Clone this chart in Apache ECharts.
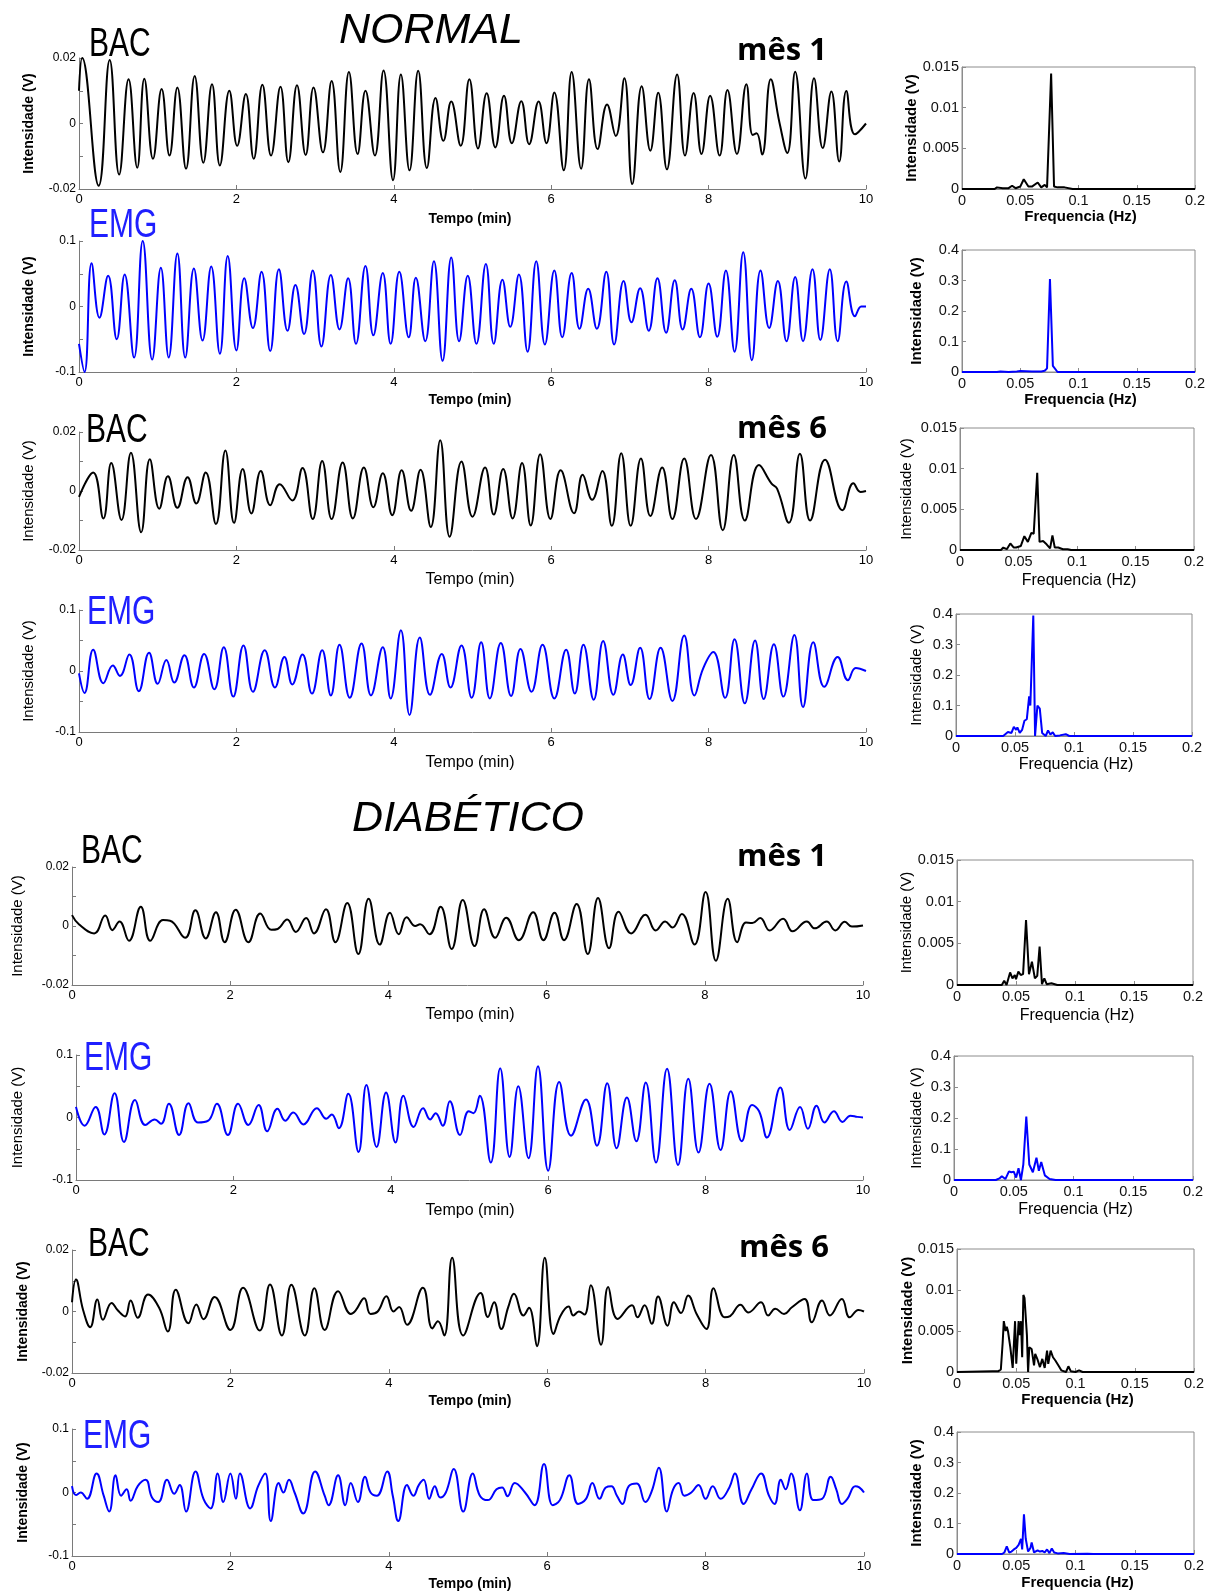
<!DOCTYPE html>
<html><head><meta charset="utf-8">
<script src="https://cdn.jsdelivr.net/npm/echarts@6/dist/echarts.min.js"></script>
<style>html,body{margin:0;padding:0;background:#fff}#c{width:1216px;height:1594px}</style>
</head><body><div id="c"></div>
<script>
// ---------- DATA: time series extrema [tempo (min), intensidade (V)] ----------
const normalBacM1 = [[0,0.010],[0.04,0.020],[0.25,-0.019],[0.39,0.0194],[0.51,-0.0156],[0.63,0.0135],[0.74,-0.0135],[0.83,0.0137],[0.94,-0.0108],[1.05,0.0105],[1.15,-0.0098],[1.25,0.011],[1.36,-0.0138],[1.47,0.0145],[1.58,-0.012],[1.69,0.012],[1.79,-0.0128],[1.91,0.010],[2.01,-0.0068],[2.12,0.009],[2.22,-0.0108],[2.33,0.0118],[2.44,-0.0098],[2.56,0.0112],[2.66,-0.0118],[2.77,0.0117],[2.88,-0.0096],[2.98,0.011],[3.10,-0.0088],[3.21,0.013],[3.32,-0.0148],[3.43,0.0157],[3.54,-0.0093],[3.64,0.010],[3.76,-0.0098],[3.87,0.0162],[3.99,-0.0173],[4.09,0.015],[4.20,-0.0143],[4.31,0.0161],[4.42,-0.0136],[4.53,0.0078],[4.63,-0.0053],[4.73,0.0067],[4.85,-0.0068],[4.96,0.0135],[5.07,-0.0076],[5.18,0.0092],[5.29,-0.0073],[5.40,0.0085],[5.50,-0.006],[5.62,0.0068],[5.72,-0.0063],[5.84,0.0067],[5.94,-0.006],[6.04,0.0095],[6.16,-0.0143],[6.26,0.0157],[6.38,-0.0138],[6.48,0.0135],[6.59,-0.0078],[6.71,0.0058],[6.82,-0.0038],[6.93,0.0138],[7.03,-0.0185],[7.15,0.0114],[7.26,-0.0083],[7.36,0.0094],[7.47,-0.014],[7.60,0.015],[7.70,-0.0098],[7.81,0.0093],[7.91,-0.0093],[8.02,0.0085],[8.14,-0.0098],[8.24,0.0102],[8.36,-0.0093],[8.48,0.012],[8.56,-0.0035],[8.61,-0.003],[8.68,-0.0095],[8.79,0.0135],[8.90,0.0003],[9.00,-0.009],[9.10,0.0158],[9.23,-0.0168],[9.34,0.0138],[9.45,-0.0075],[9.56,0.0098],[9.66,-0.0116],[9.75,0.0099],[9.86,-0.0033],[10,0]];
const normalEmgM1 = [[0,-0.057],[0.07,-0.1],[0.16,0.066],[0.26,-0.017],[0.37,0.047],[0.48,-0.05],[0.58,0.049],[0.70,-0.078],[0.81,0.10],[0.93,-0.081],[1.04,0.059],[1.14,-0.078],[1.25,0.081],[1.35,-0.078],[1.46,0.058],[1.57,-0.052],[1.68,0.061],[1.79,-0.072],[1.89,0.077],[2.00,-0.067],[2.10,0.043],[2.21,-0.033],[2.32,0.053],[2.43,-0.068],[2.54,0.057],[2.65,-0.037],[2.75,0.033],[2.86,-0.042],[2.97,0.055],[3.08,-0.061],[3.20,0.048],[3.31,-0.035],[3.42,0.043],[3.52,-0.057],[3.64,0.062],[3.74,-0.044],[3.86,0.051],[3.96,-0.057],[4.07,0.053],[4.19,-0.047],[4.28,0.044],[4.40,-0.053],[4.51,0.069],[4.62,-0.083],[4.73,0.075],[4.83,-0.053],[4.94,0.047],[5.05,-0.057],[5.17,0.065],[5.27,-0.057],[5.38,0.041],[5.48,-0.031],[5.59,0.049],[5.70,-0.069],[5.81,0.069],[5.92,-0.058],[6.04,0.055],[6.14,-0.047],[6.26,0.051],[6.36,-0.034],[6.47,0.027],[6.58,-0.034],[6.70,0.053],[6.80,-0.058],[6.92,0.039],[7.02,-0.024],[7.13,0.028],[7.24,-0.037],[7.35,0.043],[7.46,-0.040],[7.57,0.040],[7.67,-0.035],[7.78,0.027],[7.89,-0.047],[8.00,0.035],[8.11,-0.046],[8.22,0.055],[8.33,-0.069],[8.44,0.083],[8.55,-0.082],[8.66,0.055],[8.77,-0.033],[8.88,0.039],[8.99,-0.053],[9.10,0.045],[9.20,-0.053],[9.32,0.057],[9.42,-0.051],[9.54,0.057],[9.64,-0.053],[9.75,0.038],[9.86,-0.015],[9.94,0],[10,0]];
const normalBacM6 = [[0,-0.002],[0.18,0.0063],[0.31,-0.0093],[0.41,0.0095],[0.54,-0.0098],[0.66,0.013],[0.79,-0.014],[0.90,0.0108],[1.02,-0.006],[1.13,0.005],[1.25,-0.0057],[1.38,0.0047],[1.49,-0.0042],[1.61,0.0063],[1.74,-0.0112],[1.86,0.0137],[1.97,-0.0108],[2.08,0.0075],[2.19,-0.0076],[2.31,0.0068],[2.43,-0.0048],[2.55,0.0023],[2.71,-0.0032],[2.84,0.0078],[2.97,-0.0095],[3.09,0.0102],[3.21,-0.0095],[3.35,0.0097],[3.48,-0.0093],[3.62,0.008],[3.74,-0.0055],[3.86,0.006],[3.98,-0.0082],[4.10,0.007],[4.22,-0.0067],[4.34,0.0072],[4.47,-0.0122],[4.59,0.0172],[4.71,-0.0155],[4.86,0.010],[5.00,-0.0087],[5.16,0.008],[5.27,-0.008],[5.39,0.0075],[5.51,-0.0093],[5.63,0.0095],[5.74,-0.0117],[5.86,0.0125],[5.99,-0.0095],[6.12,0.007],[6.29,-0.0075],[6.40,0.0055],[6.52,-0.003],[6.65,0.0068],[6.77,-0.0118],[6.89,0.0128],[7.01,-0.0118],[7.14,0.011],[7.26,-0.0085],[7.41,0.008],[7.54,-0.0095],[7.69,0.011],[7.84,-0.0095],[8.03,0.0122],[8.18,-0.0133],[8.32,0.0122],[8.46,-0.010],[8.64,0.0088],[8.80,0.0025],[8.87,0.0008],[9.02,-0.0108],[9.16,0.0126],[9.29,-0.010],[9.48,0.0106],[9.70,-0.0065],[9.84,0.0026],[9.93,-0.0003],[10,0]];
const normalEmgM6 = [[0,-0.004],[0.07,-0.036],[0.18,0.035],[0.31,-0.020],[0.43,0.009],[0.52,-0.008],[0.64,0.027],[0.76,-0.033],[0.89,0.030],[1.00,-0.021],[1.11,0.018],[1.21,-0.019],[1.34,0.026],[1.46,-0.027],[1.59,0.028],[1.72,-0.030],[1.84,0.039],[1.96,-0.042],[2.09,0.042],[2.21,-0.034],[2.36,0.034],[2.49,-0.027],[2.61,0.023],[2.71,-0.022],[2.84,0.027],[2.96,-0.037],[3.09,0.034],[3.20,-0.040],[3.31,0.043],[3.44,-0.044],[3.59,0.045],[3.71,-0.040],[3.86,0.039],[3.96,-0.045],[4.09,0.067],[4.20,-0.072],[4.33,0.055],[4.46,-0.039],[4.61,0.028],[4.72,-0.027],[4.86,0.042],[4.99,-0.044],[5.11,0.047],[5.22,-0.045],[5.36,0.046],[5.49,-0.041],[5.61,0.036],[5.75,-0.034],[5.89,0.043],[6.04,-0.045],[6.19,0.035],[6.30,-0.037],[6.41,0.043],[6.54,-0.047],[6.66,0.049],[6.79,-0.039],[6.91,0.027],[7.01,-0.023],[7.13,0.038],[7.25,-0.046],[7.39,0.038],[7.54,-0.049],[7.69,0.058],[7.82,-0.040],[7.93,0.004],[8.06,0.031],[8.21,-0.044],[8.33,0.052],[8.46,-0.053],[8.59,0.050],[8.70,-0.046],[8.83,0.044],[8.95,-0.042],[9.09,0.059],[9.20,-0.059],[9.33,0.047],[9.47,-0.026],[9.64,0.023],[9.77,-0.015],[9.87,0.005],[10,0]];
const diabBacM1 = [[0,0.0037],[0.09,0.0005],[0.28,-0.0025],[0.42,0.0036],[0.51,-0.0014],[0.60,0.0015],[0.72,-0.005],[0.87,0.0065],[0.99,-0.005],[1.15,0.002],[1.24,0.0018],[1.43,-0.004],[1.56,0.0053],[1.69,-0.0042],[1.82,0.0047],[1.93,-0.0055],[2.07,0.0055],[2.23,-0.0055],[2.38,0.0042],[2.52,-0.0013],[2.60,-0.001],[2.72,0.0022],[2.83,-0.002],[2.96,0.0027],[3.06,-0.0025],[3.21,0.0057],[3.33,-0.0055],[3.48,0.0078],[3.62,-0.0095],[3.75,0.0092],[3.89,-0.0063],[4.02,0.0045],[4.13,-0.0028],[4.23,0.003],[4.34,0],[4.40,0.0006],[4.52,-0.0028],[4.66,0.0065],[4.80,-0.0078],[4.94,0.0088],[5.09,-0.0068],[5.21,0.0057],[5.35,-0.004],[5.49,0.0028],[5.65,-0.0048],[5.83,0.0047],[5.96,-0.0048],[6.10,0.0045],[6.22,-0.0048],[6.38,0.0075],[6.52,-0.0095],[6.65,0.0095],[6.79,-0.0075],[6.91,0.0048],[7.07,-0.0025],[7.25,0.0038],[7.38,-0.0015],[7.50,0.0015],[7.59,-0.0005],[7.71,0.0041],[7.87,-0.0063],[8.01,0.0115],[8.14,-0.0118],[8.29,0.0092],[8.41,-0.0055],[8.52,0.0012],[8.60,0.001],[8.70,0.0027],[8.82,-0.0015],[8.99,0.0025],[9.11,-0.0018],[9.29,0.0015],[9.39,-0.0008],[9.54,0.0015],[9.65,-0.0015],[9.77,0.0014],[9.86,-0.0002],[10,0.0002]];
const diabEmgM1 = [[0,0.017],[0.11,-0.013],[0.25,0.017],[0.36,-0.027],[0.49,0.039],[0.61,-0.039],[0.75,0.028],[0.88,-0.012],[1.00,-0.003],[1.08,-0.010],[1.18,0.022],[1.31,-0.028],[1.43,0.023],[1.55,-0.008],[1.68,-0.005],[1.79,0.022],[1.93,-0.028],[2.06,0.022],[2.19,-0.012],[2.32,0.020],[2.43,-0.022],[2.56,0.014],[2.66,-0.005],[2.76,0.008],[2.89,-0.011],[3.06,0.015],[3.18,-0.002],[3.25,0.005],[3.34,-0.017],[3.46,0.038],[3.59,-0.055],[3.69,0.052],[3.82,-0.047],[3.94,0.040],[4.06,-0.040],[4.16,0.035],[4.29,-0.015],[4.41,0.015],[4.50,-0.003],[4.57,0.007],[4.66,-0.013],[4.75,0.026],[4.88,-0.028],[4.99,0.010],[5.05,0.007],[5.13,0.035],[5.27,-0.072],[5.39,0.079],[5.51,-0.063],[5.62,0.050],[5.75,-0.065],[5.87,0.082],[6.00,-0.085],[6.14,0.057],[6.29,-0.029],[6.48,0.029],[6.62,-0.045],[6.75,0.055],[6.87,-0.049],[7.00,0.032],[7.12,-0.038],[7.24,0.056],[7.37,-0.072],[7.51,0.078],[7.65,-0.076],[7.78,0.062],[7.91,-0.056],[8.05,0.054],[8.19,-0.052],[8.32,0.042],[8.46,-0.038],[8.59,0.020],[8.68,0.010],[8.78,-0.032],[8.95,0.048],[9.07,-0.020],[9.20,0.017],[9.30,-0.018],[9.41,0.019],[9.51,-0.008],[9.63,0.010],[9.74,-0.007],[9.84,0.003],[9.93,0.001],[10,0]];
const diabBacM6 = [[0,0.003],[0.05,0.0104],[0.14,0.0005],[0.23,-0.0051],[0.32,0.0039],[0.39,-0.0027],[0.50,0.0028],[0.58,0.0003],[0.67,-0.0016],[0.74,0.0036],[0.83,-0.002],[0.96,0.0055],[1.10,0.0012],[1.21,-0.0065],[1.31,0.0071],[1.47,-0.0038],[1.57,0.0023],[1.66,-0.0025],[1.80,0.0047],[2.00,-0.006],[2.16,0.0077],[2.37,-0.0062],[2.50,0.0088],[2.65,-0.0078],[2.77,0.0087],[2.94,-0.0078],[3.06,0.0076],[3.19,-0.006],[3.36,0.0066],[3.52,-0.0008],[3.58,0.0003],[3.69,0.0043],[3.77,-0.0008],[3.86,0.0],[3.97,0.005],[4.06,0.0],[4.13,0.0015],[4.23,-0.0043],[4.43,0.0077],[4.55,-0.0055],[4.62,-0.0032],[4.70,-0.0078],[4.80,0.0175],[4.94,-0.0078],[5.16,0.006],[5.25,-0.0018],[5.33,0.003],[5.42,-0.0057],[5.51,0.0016],[5.58,0.0058],[5.70,-0.0013],[5.77,0.0012],[5.87,-0.0113],[5.97,0.0175],[6.08,-0.0073],[6.17,-0.0013],[6.27,0.0016],[6.33,-0.0013],[6.40,0.0],[6.47,-0.001],[6.55,0.0085],[6.68,-0.0108],[6.77,0.008],[6.89,-0.0024],[7.07,0.002],[7.14,-0.0019],[7.23,0.002],[7.32,-0.004],[7.40,0.0049],[7.52,-0.0046],[7.60,0.003],[7.69,-0.0005],[7.78,0.0052],[7.89,-0.001],[8.01,-0.0057],[8.10,0.0076],[8.24,-0.0019],[8.31,-0.0015],[8.44,0.0022],[8.54,-0.0003],[8.70,0.003],[8.79,-0.0013],[8.88,0.0009],[8.99,-0.0008],[9.09,0.0014],[9.25,0.0041],[9.34,-0.0035],[9.47,0.0036],[9.57,-0.0013],[9.72,0.0041],[9.82,-0.0019],[9.93,0.0005],[10,0]];
const diabEmgM6 = [[0,0.010],[0.05,-0.004],[0.11,0.0],[0.19,-0.010],[0.31,0.030],[0.40,-0.005],[0.47,-0.030],[0.55,0.027],[0.62,-0.005],[0.69,0.005],[0.74,-0.013],[0.83,0.010],[0.93,0.020],[1.01,-0.008],[1.09,-0.015],[1.20,0.020],[1.29,-0.002],[1.36,0.012],[1.44,-0.030],[1.56,0.033],[1.66,-0.010],[1.75,-0.025],[1.84,0.030],[1.91,-0.015],[2.00,0.030],[2.07,-0.010],[2.12,0.030],[2.25,-0.025],[2.35,0.010],[2.44,0.030],[2.51,-0.045],[2.61,0.015],[2.67,0.0],[2.74,0.020],[2.81,0.0],[2.92,-0.033],[3.07,0.033],[3.19,-0.005],[3.24,-0.020],[3.36,0.027],[3.45,-0.020],[3.52,0.015],[3.61,-0.015],[3.70,0.025],[3.77,0.0],[3.85,-0.005],[3.98,0.033],[4.05,-0.005],[4.12,-0.045],[4.23,0.012],[4.31,-0.005],[4.38,0.012],[4.44,0.020],[4.51,-0.010],[4.58,0.010],[4.65,-0.008],[4.72,0.0],[4.82,0.037],[4.94,-0.030],[5.06,0.030],[5.15,-0.005],[5.25,-0.012],[5.36,0.005],[5.43,0.008],[5.50,-0.006],[5.59,0.015],[5.72,0.0],[5.84,-0.020],[5.96,0.045],[6.07,-0.020],[6.16,-0.012],[6.28,0.027],[6.39,-0.018],[6.49,-0.010],[6.57,0.015],[6.66,-0.010],[6.74,0.008],[6.81,0.010],[6.88,-0.005],[6.95,-0.018],[7.03,0.010],[7.13,0.014],[7.24,-0.015],[7.32,0.002],[7.41,0.039],[7.51,-0.030],[7.59,0.005],[7.66,0.015],[7.73,-0.005],[7.82,0.0],[7.91,0.012],[8.00,-0.010],[8.09,0.010],[8.19,-0.010],[8.30,0.008],[8.37,0.030],[8.48,-0.018],[8.58,0.005],[8.70,0.030],[8.80,-0.005],[8.87,-0.018],[8.95,0.020],[9.01,0.005],[9.08,0.030],[9.19,-0.028],[9.28,0.030],[9.36,-0.012],[9.47,-0.010],[9.58,0.025],[9.65,0.005],[9.72,-0.018],[9.79,-0.010],[9.89,0.010],[9.94,0.008],[10,0]];

// ---------- DATA: spectra [frequencia (Hz), intensidade (V)] ----------
const specNormalBacM1 = [[0,0],[0.028,0],[0.030,0.0002],[0.035,0.0001],[0.040,0.0001],[0.043,0.0004],[0.046,0.0001],[0.050,0.0003],[0.053,0.0012],[0.057,0.0003],[0.060,0.0003],[0.065,0.0008],[0.068,0.0002],[0.071,0.0005],[0.073,0.0002],[0.0765,0.0142],[0.079,0.0003],[0.082,0.0002],[0.088,0.0002],[0.095,0],[0.2,0]];
const specNormalEmgM1 = [[0,0],[0.030,0],[0.033,0.002],[0.040,0],[0.047,0.002],[0.050,0.003],[0.060,0.002],[0.068,0.002],[0.071,0.004],[0.073,0.012],[0.0755,0.305],[0.078,0.02],[0.082,0],[0.2,0]];
const specNormalBacM6 = [[0,0],[0.035,0],[0.037,0.0003],[0.040,0.0001],[0.043,0.0008],[0.046,0.0003],[0.048,0.0003],[0.052,0.0005],[0.055,0.0017],[0.058,0.001],[0.061,0.0021],[0.063,0.002],[0.066,0.0095],[0.068,0.001],[0.071,0.0011],[0.074,0.0007],[0.077,0.0002],[0.079,0.0018],[0.081,0.0003],[0.084,0.0003],[0.088,0.0001],[0.092,0.0001],[0.095,0],[0.2,0]];
const specNormalEmgM6 = [[0,0],[0.040,0],[0.044,0.013],[0.047,0.01],[0.049,0.03],[0.051,0.02],[0.052,0.028],[0.054,0.01],[0.056,0.02],[0.058,0.05],[0.060,0.055],[0.062,0.13],[0.063,0.10],[0.0655,0.395],[0.067,0],[0.068,0.05],[0.069,0.10],[0.071,0.09],[0.073,0.01],[0.076,0],[0.078,0.018],[0.080,0.005],[0.082,0.012],[0.084,0],[0.088,0.002],[0.093,0.006],[0.096,0],[0.2,0]];
const specDiabBacM1 = [[0,0],[0.038,0],[0.040,0.0005],[0.042,0],[0.045,0.0015],[0.047,0.0008],[0.049,0.0012],[0.050,0.0007],[0.052,0.0016],[0.054,0.0012],[0.056,0.0013],[0.0585,0.0078],[0.061,0.0013],[0.0635,0.0028],[0.066,0.0008],[0.068,0.0011],[0.070,0.0046],[0.072,0.0001],[0.074,0.0008],[0.076,0.0001],[0.080,0.0002],[0.085,0],[0.2,0]];
const specDiabEmgM1 = [[0,0],[0.035,0],[0.038,0.005],[0.040,0.012],[0.043,0.003],[0.046,0.028],[0.048,0.025],[0.050,0.027],[0.052,0.008],[0.054,0.038],[0.056,0],[0.058,0.05],[0.0605,0.205],[0.063,0.05],[0.066,0.025],[0.069,0.072],[0.071,0.03],[0.073,0.058],[0.076,0.015],[0.080,0.003],[0.085,0],[0.2,0]];
const specDiabBacM6 = [[0,0],[0.030,0.0001],[0.035,0.0001],[0.037,0.0003],[0.0385,0.0035],[0.0395,0.0062],[0.041,0.005],[0.042,0.0055],[0.043,0.005],[0.045,0.003],[0.047,0.0005],[0.049,0.0062],[0.050,0.001],[0.052,0.0062],[0.053,0.0045],[0.054,0.0062],[0.055,0.0018],[0.056,0.0094],[0.057,0.009],[0.059,0.0045],[0.060,0],[0.061,0.003],[0.063,0.0028],[0.065,0.0008],[0.066,0.0022],[0.068,0.0015],[0.070,0.0006],[0.072,0.0016],[0.074,0.0005],[0.076,0.0026],[0.077,0.001],[0.079,0.0026],[0.081,0.0018],[0.083,0.0014],[0.086,0.0007],[0.088,0.0002],[0.092,0],[0.094,0.0007],[0.096,0.0001],[0.100,0],[0.103,0.0002],[0.106,0],[0.2,0]];
const specDiabEmgM6 = [[0,0],[0.038,0],[0.040,0.005],[0.042,0.025],[0.044,0.005],[0.046,0.008],[0.048,0.015],[0.050,0.02],[0.052,0.03],[0.054,0.05],[0.055,0.015],[0.0565,0.13],[0.058,0.05],[0.060,0.008],[0.062,0.02],[0.063,0.038],[0.065,0.005],[0.068,0.012],[0.070,0.008],[0.072,0.01],[0.074,0.005],[0.076,0.015],[0.078,0.003],[0.080,0.018],[0.082,0.005],[0.085,0.002],[0.090,0.003],[0.095,0],[0.110,0.001],[0.115,0],[0.2,0]];

// ---------- tick labels ----------
const bacTickLabels = ['-0.02', '0', '0.02'];
const emgTickLabels = ['-0.1', '0', '0.1'];
const timeTickLabels = ['0', '2', '4', '6', '8', '10'];
const specBacTickLabels = ['0', '0.005', '0.01', '0.015'];
const specEmgTickLabels = ['0', '0.1', '0.2', '0.3', '0.4'];
const freqTickLabels = ['0', '0.05', '0.1', '0.15', '0.2'];

// ---------- layout (pixels) ----------
const BLACK = '#000000', BLUE = '#0000ff';
const leftPanels = [
  {data: normalBacM1, kind: 'bac', box: [79, 58, 866, 189], bold: true, yNameX: 29, xNameY: 219, tag: {t: 'BAC', x: 89, y: 45}, mes: {t: 'mês 1', x: 737, y: 51}},
  {data: normalEmgM1, kind: 'emg', box: [79, 241, 866, 372], bold: true, yNameX: 29, xNameY: 400, tag: {t: 'EMG', x: 89, y: 226}},
  {data: normalBacM6, kind: 'bac', box: [79, 432, 866, 550], bold: false, yNameX: 29, xNameY: 580, tag: {t: 'BAC', x: 86, y: 431}, mes: {t: 'mês 6', x: 737, y: 429}},
  {data: normalEmgM6, kind: 'emg', box: [79, 610, 866, 732], bold: false, yNameX: 29, xNameY: 763, tag: {t: 'EMG', x: 87, y: 613}},
  {data: diabBacM1, kind: 'bac', box: [72, 867, 863, 985], bold: false, yNameX: 18, xNameY: 1015, tag: {t: 'BAC', x: 81, y: 852}, mes: {t: 'mês 1', x: 737, y: 857}},
  {data: diabEmgM1, kind: 'emg', box: [76, 1055, 863, 1180], bold: false, yNameX: 18, xNameY: 1211, tag: {t: 'EMG', x: 84, y: 1059}},
  {data: diabBacM6, kind: 'bac', box: [72, 1250, 864, 1373], bold: true, yNameX: 23, xNameY: 1401, tag: {t: 'BAC', x: 88, y: 1245}, mes: {t: 'mês 6', x: 739, y: 1248}},
  {data: diabEmgM6, kind: 'emg', box: [72, 1429, 864, 1556], bold: true, yNameX: 23, xNameY: 1584, tag: {t: 'EMG', x: 83, y: 1437}}
];
const rightPanels = [
  {data: specNormalBacM1, kind: 'bac', box: [962, 67, 1195, 189], bold: true, yNameX: 912, xNameY: 217},
  {data: specNormalEmgM1, kind: 'emg', box: [962, 250, 1195, 372], bold: true, yNameX: 917, xNameY: 400},
  {data: specNormalBacM6, kind: 'bac', box: [960, 428, 1194, 550], bold: false, yNameX: 907, xNameY: 581},
  {data: specNormalEmgM6, kind: 'emg', box: [956, 614, 1192, 736], bold: false, yNameX: 917, xNameY: 765},
  {data: specDiabBacM1, kind: 'bac', box: [957, 860, 1193, 985], bold: false, yNameX: 907, xNameY: 1016},
  {data: specDiabEmgM1, kind: 'emg', box: [954, 1056, 1193, 1180], bold: false, yNameX: 917, xNameY: 1210},
  {data: specDiabBacM6, kind: 'bac', box: [957, 1249, 1194, 1372], bold: true, yNameX: 908, xNameY: 1400},
  {data: specDiabEmgM6, kind: 'emg', box: [957, 1432, 1194, 1554], bold: true, yNameX: 917, xNameY: 1583}
];

const FONT = '"Liberation Sans", Arial, sans-serif';
const NARROW = '"Liberation Sans Narrow", "Liberation Sans", Arial, sans-serif';
const AX = '#7a7a7a';

function fmt(list) {
  return function (v) {
    const s = String(Math.round(v * 10000) / 10000);
    return list.indexOf(s) >= 0 ? s : '';
  };
}

const grid = [], xAxis = [], yAxis = [], series = [], graphic = [];

function addText(t, x, y, o) {
  graphic.push(Object.assign({
    type: 'text', x: x, y: y, silent: true,
    style: Object.assign({text: t, fill: '#000', align: 'center', verticalAlign: 'middle', fontFamily: FONT, fontSize: 14}, o.style || {})
  }, o.el || {}));
}

leftPanels.forEach(function (p, i) {
  const [L, T, R, B] = p.box;
  const isBac = p.kind === 'bac';
  grid.push({left: L, top: T, width: R - L, height: B - T, outerBoundsMode: 'none', containLabel: false});
  xAxis.push({
    type: 'value', gridIndex: i, min: 0, max: 10, interval: 2,
    axisLine: {show: true, onZero: false, lineStyle: {color: AX, width: 1}},
    axisTick: {show: true, inside: true, length: 4, lineStyle: {color: AX}},
    axisLabel: {show: true, color: '#000', fontSize: 13, fontFamily: p.bold ? FONT : NARROW, margin: 4, formatter: fmt(timeTickLabels), showMinLabel: true, showMaxLabel: true},
    splitLine: {show: false}
  });
  yAxis.push({
    type: 'value', gridIndex: i, min: isBac ? -0.02 : -0.1, max: isBac ? 0.02 : 0.1, interval: isBac ? 0.01 : 0.05,
    axisLine: {show: true, onZero: false, lineStyle: {color: AX, width: 1}},
    axisTick: {show: true, inside: true, length: 4, lineStyle: {color: AX}},
    axisLabel: {show: true, color: '#000', fontSize: 12, fontFamily: p.bold ? FONT : NARROW, margin: 3, formatter: fmt(isBac ? bacTickLabels : emgTickLabels), showMinLabel: true, showMaxLabel: true},
    splitLine: {show: false}
  });
  series.push({
    type: 'line', xAxisIndex: i, yAxisIndex: i, data: p.data, showSymbol: false, symbol: 'none',
    smooth: 0.45, lineStyle: {color: isBac ? BLACK : BLUE, width: 2}, animation: false, z: 3
  });
  addText('Intensidade (V)', p.yNameX, (T + B) / 2, {el: {rotation: Math.PI / 2}, style: {fontSize: p.bold ? 14 : 15, fontWeight: p.bold ? 'bold' : 'normal', fontFamily: p.bold ? FONT : NARROW}});
  addText('Tempo (min)', 470, p.xNameY, {style: {fontSize: p.bold ? 14 : 16, fontWeight: p.bold ? 'bold' : 'normal', fontFamily: p.bold ? FONT : NARROW}});
  addText(p.tag.t, p.tag.x, p.tag.y, {el: {scaleY: 1.35, originX: 0, originY: 0}, style: {align: 'left', fontSize: 30, fill: isBac ? '#000' : '#1f1fff', fontFamily: FONT}});
  if (p.mes) addText(p.mes.t, p.mes.x, p.mes.y, {style: {align: 'left', fontSize: 31, fontWeight: 'bold', fontFamily: '"Open Sans", "Noto Sans", sans-serif'}});
});

rightPanels.forEach(function (p, j) {
  const i = leftPanels.length + j;
  const [L, T, R, B] = p.box;
  const isBac = p.kind === 'bac';
  grid.push({left: L, top: T, width: R - L, height: B - T, outerBoundsMode: 'none', containLabel: false, show: true, borderColor: '#8c8c8c', borderWidth: 1, backgroundColor: 'transparent'});
  xAxis.push({
    type: 'value', gridIndex: i, min: 0, max: 0.2, interval: 0.05,
    axisLine: {show: true, onZero: false, lineStyle: {color: '#8c8c8c', width: 1}},
    axisTick: {show: true, inside: true, length: 4, lineStyle: {color: '#8c8c8c'}},
    axisLabel: {show: true, color: '#111', fontSize: 14.5, fontFamily: FONT, margin: 4, formatter: fmt(freqTickLabels), showMinLabel: true, showMaxLabel: true},
    splitLine: {show: false}
  });
  yAxis.push({
    type: 'value', gridIndex: i, min: 0, max: isBac ? 0.015 : 0.4, interval: isBac ? 0.005 : 0.1,
    axisLine: {show: true, onZero: false, lineStyle: {color: '#8c8c8c', width: 1}},
    axisTick: {show: true, inside: true, length: 4, lineStyle: {color: '#8c8c8c'}},
    axisLabel: {show: true, color: '#111', fontSize: 14.5, fontFamily: FONT, margin: 3, formatter: fmt(isBac ? specBacTickLabels : specEmgTickLabels), showMinLabel: true, showMaxLabel: true},
    splitLine: {show: false}
  });
  series.push({
    type: 'line', xAxisIndex: i, yAxisIndex: i, data: p.data, showSymbol: false, symbol: 'none',
    smooth: false, lineStyle: {color: isBac ? BLACK : BLUE, width: 2}, animation: false, z: 3
  });
  addText('Intensidade (V)', p.yNameX, (T + B) / 2, {el: {rotation: Math.PI / 2}, style: {fontSize: 15, fontWeight: p.bold ? 'bold' : 'normal'}});
  addText('Frequencia (Hz)', (L + R) / 2 + 2, p.xNameY, {style: {fontSize: p.bold ? 15 : 16, fontWeight: p.bold ? 'bold' : 'normal'}});
});

addText('NORMAL', 431, 31, {style: {fontSize: 43, fontStyle: 'italic'}});
addText('DIABÉTICO', 468, 819, {style: {fontSize: 43, fontStyle: 'italic'}});

const chart = echarts.init(document.getElementById('c'), null, {renderer: 'canvas'});
chart.setOption({
  backgroundColor: '#ffffff',
  animation: false,
  grid: grid, xAxis: xAxis, yAxis: yAxis, series: series, graphic: graphic
});
</script>
</body></html>
